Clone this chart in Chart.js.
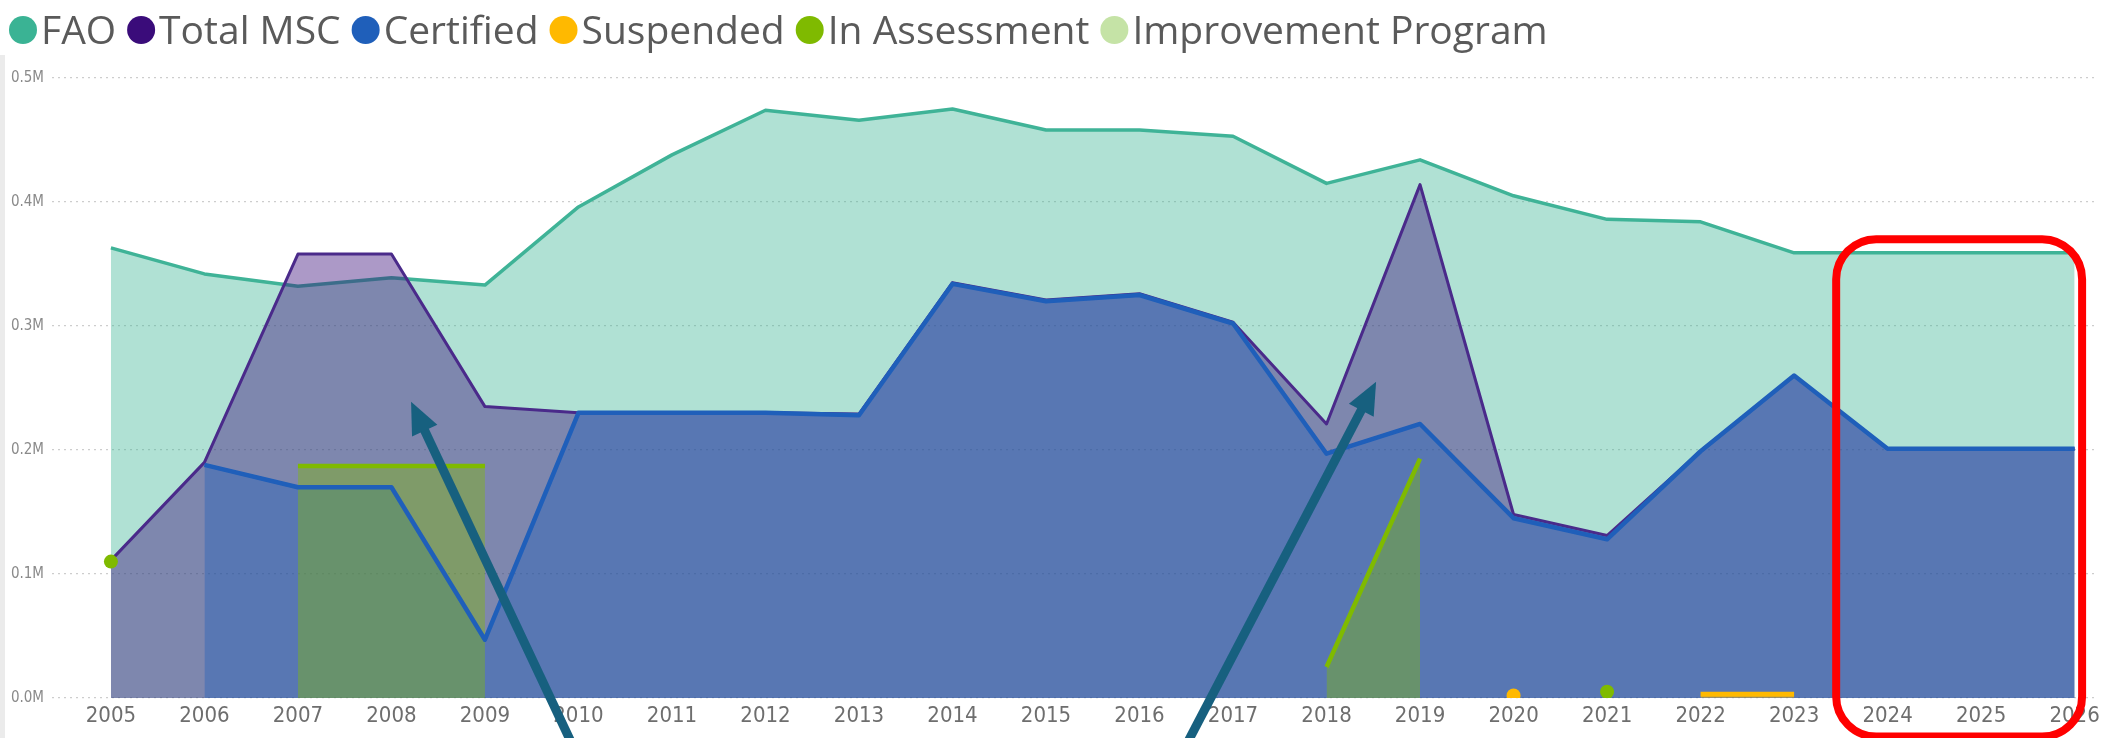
<!DOCTYPE html>
<html>
<head>
<meta charset="utf-8">
<script src="https://cdn.jsdelivr.net/npm/chart.js@4.4.0/dist/chart.umd.min.js"></script>
<style>
  html, body { margin: 0; padding: 0; background: #fff; }
  #wrap { position: relative; width: 2105px; height: 738px; overflow: hidden; }
  #edge { position: absolute; left: 0; top: 55px; width: 5px; height: 683px; background: #ebebeb; }
</style>
</head>
<body>
<div id="wrap">
  <canvas id="msc_chart" width="2105" height="738"></canvas>
  <div id="edge"></div>
</div>
<script>
// categories
var years = [2005, 2006, 2007, 2008, 2009, 2010, 2011, 2012, 2013, 2014, 2015,
             2016, 2017, 2018, 2019, 2020, 2021, 2022, 2023, 2024, 2025, 2026];

// series (catch, tonnes)
var fao = [363000, 342000, 332000, 339000, 333000, 396000, 438000, 474000, 466000, 475000, 458000,
           458000, 453000, 415000, 434000, 405000, 386000, 384000, 359000, 359000, 359000, 359000];
var totalMsc = [111000, 190000, 358000, 358000, 235000, 230000, 230000, 230000, 229000, 335000, 321000,
                326000, 303000, 221000, 414000, 148000, 131000, 199000, 260000, 201000, 201000, 201000];
var certified = [null, 188000, 170000, 170000, 47000, 230000, 230000, 230000, 228000, 334000, 320000,
                 325000, 302000, 197000, 221000, 145000, 128000, 199000, 260000, 201000, 201000, 201000];
var suspended = [null, null, null, null, null, null, null, null, null, null, null,
                 null, null, null, null, 2000, null, 3000, 3000, null, null, null];
var inAssessment = [110000, null, 187000, 187000, 187000, null, null, null, null, null, null,
                    null, null, 25000, 193000, null, 5000, null, null, null, null, null];
var improvementProgram = [null, null, null, null, null, null, null, null, null, null, null,
                          null, null, null, null, null, null, null, null, null, null, null];

// tick labels
var yTicks = [0, 100000, 200000, 300000, 400000, 500000];
var yTickLabels = ["0.0M", "0.1M", "0.2M", "0.3M", "0.4M", "0.5M"];

var narrowFont = '"Liberation Sans Narrow", "DejaVu Sans Condensed", "Arial Narrow", sans-serif';
var legendFont = '39px "Segoe UI", "Open Sans", sans-serif';

function points(arr) {
  return years.map(function(yr, i) { return { x: yr, y: arr[i] }; });
}

function rgba(hex, a) {
  var n = parseInt(hex.slice(1), 16);
  return 'rgba(' + (n >> 16) + ',' + ((n >> 8) & 255) + ',' + (n & 255) + ',' + a + ')';
}

// only isolated values get a marker, like the original
function isolatedRadius(ctx) {
  var d = ctx.dataset.data, i = ctx.dataIndex;
  if (!d[i] || d[i].y == null) return 0;
  var prev = i > 0 ? d[i - 1].y : null;
  var next = i < d.length - 1 ? d[i + 1].y : null;
  return (prev == null && next == null) ? 7 : 0;
}

function series(label, arr, color, lineColor, width, order) {
  return {
    label: label,
    data: points(arr),
    legendColor: color,
    borderColor: lineColor,
    backgroundColor: rgba(color, 0.4),
    pointBackgroundColor: color,
    pointBorderWidth: 0,
    pointRadius: isolatedRadius,
    borderWidth: width,
    borderJoinStyle: 'round',
    fill: 'origin',
    tension: 0,
    order: order
  };
}

var datasets = [
  series("FAO", fao, "#3AB394", "#3FB397", 3.5, 60),
  series("Total MSC", totalMsc, "#3A0C7A", "#4A2A8A", 3, 50),
  series("Certified", certified, "#1F5FBA", "#1F5FBA", 4.5, 30),
  series("Suspended", suspended, "#FFB900", "#FFB900", 5, 20),
  series("In Assessment", inAssessment, "#7FBA00", "#7FBA00", 4.5, 35),
  series("Improvement Program", improvementProgram, "#C5E3A6", "#C5E3A6", 4, 10)
];
datasets[1].backgroundColor = rgba("#3A0C7A", 0.42);
// certified area goes under the in-assessment area, its line stays on top
datasets[2].fill = false;
var certifiedArea = series("Certified", certified, "#1F5FBA", "#1F5FBA", 0, 40);
certifiedArea.noLegend = true;
datasets.push(certifiedArea);

var topLegend = {
  id: 'topLegend',
  afterDraw: function(chart) {
    var ctx = chart.ctx;
    var x = 9, y = 30;
    ctx.save();
    ctx.font = legendFont;
    ctx.textBaseline = 'alphabetic';
    chart.data.datasets.forEach(function(ds) {
      if (ds.noLegend) return;
      ctx.fillStyle = ds.legendColor;
      ctx.beginPath();
      ctx.arc(x + 14, y, 14, 0, Math.PI * 2);
      ctx.fill();
      x += 32;
      ctx.fillStyle = '#5a5a5a';
      ctx.fillText(ds.label, x, 44);
      x += ctx.measureText(ds.label).width + 11;
    });
    ctx.restore();
  }
};

// callouts that sit on top of the chart
var callouts = {
  arrows: [
    { from: [2009.98, -45000], to: [2008.21, 239000] },
    { from: [2016.45, -45000], to: [2018.53, 255000] }
  ],
  box: { x0: 2023.45, x1: 2026.08, y0: -31000, y1: 370000 }
};

var calloutPlugin = {
  id: 'callouts',
  afterDraw: function(chart) {
    var ctx = chart.ctx, xs = chart.scales.x, ys = chart.scales.y;
    ctx.save();
    callouts.arrows.forEach(function(a) {
      var x0 = xs.getPixelForValue(a.from[0]), y0 = ys.getPixelForValue(a.from[1]);
      var x1 = xs.getPixelForValue(a.to[0]), y1 = ys.getPixelForValue(a.to[1]);
      var ang = Math.atan2(y1 - y0, x1 - x0);
      var head = 32, half = 14;
      var bx = x1 - Math.cos(ang) * head, by = y1 - Math.sin(ang) * head;
      ctx.strokeStyle = '#17607F';
      ctx.fillStyle = '#17607F';
      ctx.lineWidth = 9;
      ctx.beginPath();
      ctx.moveTo(x0, y0);
      ctx.lineTo(bx + Math.cos(ang) * 4, by + Math.sin(ang) * 4);
      ctx.stroke();
      ctx.beginPath();
      ctx.moveTo(x1, y1);
      ctx.lineTo(bx + Math.sin(ang) * half, by - Math.cos(ang) * half);
      ctx.lineTo(bx - Math.sin(ang) * half, by + Math.cos(ang) * half);
      ctx.closePath();
      ctx.fill();
    });
    var b = callouts.box;
    var l = xs.getPixelForValue(b.x0), r = xs.getPixelForValue(b.x1);
    var t = ys.getPixelForValue(b.y1), btm = ys.getPixelForValue(b.y0);
    var rad = 40;
    ctx.strokeStyle = '#FF0000';
    ctx.lineWidth = 8;
    ctx.beginPath();
    ctx.moveTo(l + rad, t);
    ctx.lineTo(r - rad, t);
    ctx.arcTo(r, t, r, t + rad, rad);
    ctx.lineTo(r, btm - rad);
    ctx.arcTo(r, btm, r - rad, btm, rad);
    ctx.lineTo(l + rad, btm);
    ctx.arcTo(l, btm, l, btm - rad, rad);
    ctx.lineTo(l, t + rad);
    ctx.arcTo(l, t, l + rad, t, rad);
    ctx.closePath();
    ctx.stroke();
    ctx.restore();
  }
};

function start() {
  var ctx = document.getElementById("msc_chart").getContext("2d");
  new Chart(ctx, {
    type: 'line',
    data: { datasets: datasets },
    plugins: [topLegend, calloutPlugin],
    options: {
      responsive: false,
      animation: false,
      events: [],
      layout: { padding: { top: 78, right: 4, left: 0, bottom: 0 } },
      plugins: {
        legend: { display: false },
        tooltip: { enabled: false }
      },
      scales: {
        x: {
          type: 'linear',
          min: 2004.37,
          max: 2026.25,
          grid: { display: false, drawTicks: false },
          border: { display: false },
          afterFit: function(s) { s.height = 40; },
          ticks: {
            stepSize: 1,
            maxTicksLimit: 40,
            includeBounds: false,
            autoSkip: false,
            maxRotation: 0,
            padding: 5,
            color: '#6e6e6e',
            font: { family: narrowFont, size: 22 },
            callback: function(v) { return years.indexOf(v) >= 0 ? String(v) : ''; }
          }
        },
        y: {
          min: 0,
          max: 500000,
          afterFit: function(s) { s.width = 52; },
          afterBuildTicks: function(s) { s.ticks = yTicks.map(function(v) { return { value: v }; }); },
          grid: { color: '#cdcdcd', lineWidth: 1.2, drawTicks: false },
          border: { display: false, dash: [2, 4] },
          ticks: {
            padding: 8,
            color: '#8a8a8a',
            font: { family: narrowFont, size: 15 },
            callback: function(v) { return yTickLabels[yTicks.indexOf(v)]; }
          }
        }
      }
    }
  });
}

window.onload = start;
</script>
</body>
</html>
